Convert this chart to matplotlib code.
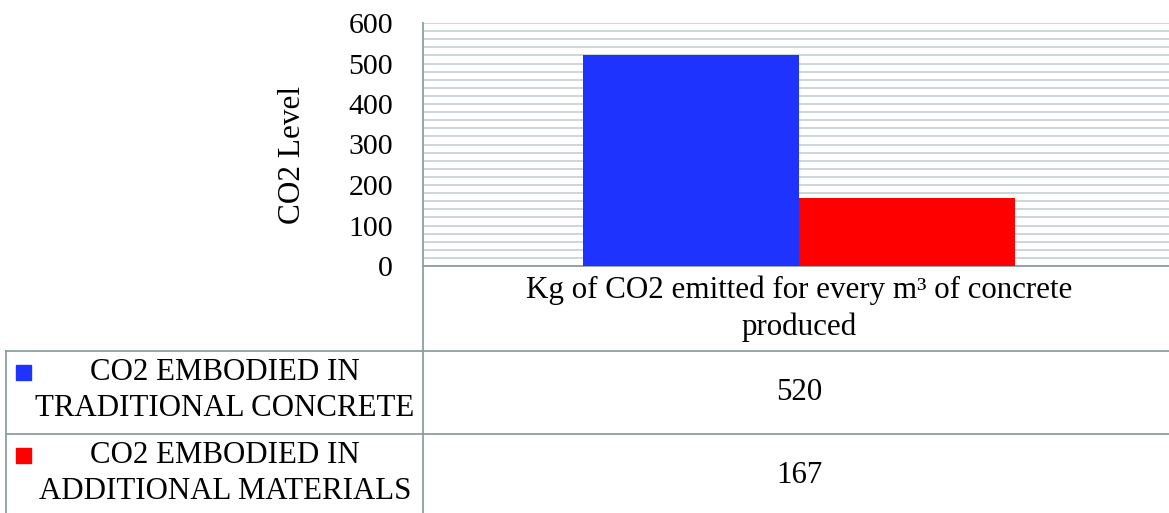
import numpy as np
import matplotlib
matplotlib.use("Agg")
import matplotlib.pyplot as plt
from matplotlib.lines import Line2D
from matplotlib.patches import Rectangle

plt.rcParams["font.family"] = ["Liberation Serif", "DejaVu Serif"]

# Data
categories = ["Kg of CO2 emitted for every m\u00b3 of concrete\nproduced"]
series_names = ["CO2 EMBODIED IN\nTRADITIONAL CONCRETE",
                "CO2 EMBODIED IN\nADDITIONAL MATERIALS"]
traditional = [520]
additional = [167]
series_values = [traditional, additional]
series_colors = ["#1f33ff", "#ff0000"]
y_ticks = [0, 100, 200, 300, 400, 500, 600]

W, H = 1169, 513
fig = plt.figure(figsize=(W / 100, H / 100), dpi=100)

grid_col = "#c9d3d3"
line_col = "#8e9e9e"

# Plot area (extends slightly past the right edge of the figure)
ax_left, ax_top, ax_w, ax_h = 423, 23, 752, 243
ax = fig.add_axes([ax_left / W, (H - ax_top - ax_h) / H, ax_w / W, ax_h / H])

x = np.arange(len(categories))
bar_w = 0.2873
n = len(series_values)
for i, (vals, col) in enumerate(zip(series_values, series_colors)):
    offset = (i - (n - 1) / 2) * bar_w
    ax.bar(x + offset, vals, width=bar_w, color=col, zorder=3)

ax.set_xlim(-0.5, len(categories) - 0.5)
ax.set_ylim(0, 600)
ax.set_yticks(y_ticks)
ax.set_yticks(np.arange(0, 601, 20), minor=True)
ax.yaxis.grid(True, which="both", color=grid_col, linewidth=1.3)
ax.set_axisbelow(True)
ax.set_xticks([])
ax.tick_params(axis="y", which="both", length=0, pad=21.6, labelsize=21.5)
for s in ["top", "right"]:
    ax.spines[s].set_visible(False)
ax.spines["left"].set_color(line_col)
ax.spines["bottom"].set_color(line_col)
ax.spines["left"].set_linewidth(1.3)
ax.spines["bottom"].set_linewidth(1.3)
ax.set_ylabel("CO2 Level", fontsize=22.5, labelpad=0)
ax.yaxis.set_label_coords((307 - ax_left) / ax_w, 0.457)

# Overlay in pixel coordinates for the data table
ov = fig.add_axes([0, 0, 1, 1])
ov.set_xlim(0, W)
ov.set_ylim(H, 0)
ov.axis("off")
ov.patch.set_alpha(0)

row_tops = [351, 434]
lw = 1.3
ov.add_line(Line2D([ax_left, ax_left], [ax_top + ax_h, H], color=line_col, lw=lw))
ov.add_line(Line2D([6, 6], [row_tops[0], H], color=line_col, lw=lw))
for yt in row_tops:
    ov.add_line(Line2D([6, W], [yt, yt], color=line_col, lw=lw))

cat_center = ax_left + ax_w / 2
for c in categories:
    ov.text(cat_center, 309, c, ha="center", va="center", fontsize=22.3,
            linespacing=1.35)

for name, vals, col, yt in zip(series_names, series_values, series_colors, row_tops):
    ov.add_patch(Rectangle((16, yt + 14), 15, 15, color=col))
    ov.text(225, yt + 39.5, name, ha="center", va="center", fontsize=22.2,
            linespacing=1.35)
    ov.text(cat_center, yt + 41.5, f"{vals[0]}", ha="center", va="center",
            fontsize=22.2)

fig.savefig("out.png", dpi=100)
